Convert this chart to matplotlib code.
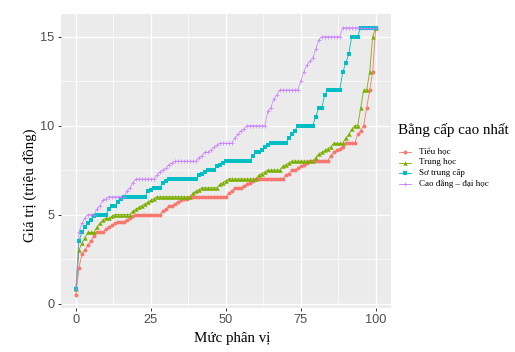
import matplotlib
matplotlib.use("Agg")
import matplotlib.pyplot as plt
from matplotlib.lines import Line2D
from matplotlib.ticker import MultipleLocator

# percentile levels on the x axis
percentiles = list(range(101))

tieu_hoc = [
    0.5, 2.0, 2.8, 3.0, 3.3, 3.5, 3.8, 4.0, 4.0, 4.0,
    4.2, 4.3, 4.4, 4.5, 4.6, 4.6, 4.6, 4.7, 4.8, 4.9,
    5.0, 5.0, 5.0, 5.0, 5.0, 5.0, 5.0, 5.0, 5.0, 5.2,
    5.3, 5.5, 5.5, 5.6, 5.7, 5.8, 5.9, 5.9, 6.0, 6.0,
    6.0, 6.0, 6.0, 6.0, 6.0, 6.0, 6.0, 6.0, 6.0, 6.0,
    6.0, 6.2, 6.3, 6.5, 6.5, 6.5, 6.6, 6.7, 6.8, 6.9,
    7.0, 7.0, 7.0, 7.0, 7.0, 7.0, 7.0, 7.0, 7.0, 7.0,
    7.2, 7.3, 7.5, 7.5, 7.6, 7.7, 7.8, 7.9, 8.0, 8.0,
    8.0, 8.0, 8.0, 8.0, 8.0, 8.3, 8.5, 8.6, 8.7, 8.8,
    9.0, 9.0, 9.0, 9.0, 9.5, 9.7, 10.0, 11.0, 12.0, 13.0,
    15.5,
]

trung_hoc = [
    0.8, 3.0, 3.4, 3.7, 4.0, 4.0, 4.0, 4.3, 4.5, 4.7,
    4.8, 4.8, 4.9, 5.0, 5.0, 5.0, 5.0, 5.0, 5.0, 5.2,
    5.3, 5.4, 5.5, 5.6, 5.7, 5.8, 5.9, 6.0, 6.0, 6.0,
    6.0, 6.0, 6.0, 6.0, 6.0, 6.0, 6.0, 6.0, 6.0, 6.2,
    6.3, 6.4, 6.5, 6.5, 6.5, 6.5, 6.5, 6.5, 6.7, 6.8,
    6.9, 7.0, 7.0, 7.0, 7.0, 7.0, 7.0, 7.0, 7.0, 7.0,
    7.0, 7.2, 7.3, 7.4, 7.5, 7.5, 7.5, 7.5, 7.5, 7.7,
    7.8, 7.9, 8.0, 8.0, 8.0, 8.0, 8.0, 8.0, 8.0, 8.0,
    8.2, 8.4, 8.5, 8.6, 8.7, 8.8, 9.0, 9.0, 9.0, 9.0,
    9.3, 9.5, 9.8, 10.0, 10.0, 11.0, 12.0, 12.0, 13.0, 15.0,
    15.5,
]

so_trung_cap = [
    0.8, 3.5, 4.0, 4.3, 4.5, 4.7, 4.9, 5.0, 5.0, 5.0,
    5.0, 5.3, 5.5, 5.5, 5.7, 5.9, 6.0, 6.0, 6.0, 6.0,
    6.0, 6.0, 6.0, 6.0, 6.3, 6.4, 6.5, 6.5, 6.5, 6.8,
    6.9, 7.0, 7.0, 7.0, 7.0, 7.0, 7.0, 7.0, 7.0, 7.0,
    7.0, 7.2, 7.3, 7.4, 7.5, 7.5, 7.5, 7.7, 7.8, 7.9,
    8.0, 8.0, 8.0, 8.0, 8.0, 8.0, 8.0, 8.0, 8.0, 8.3,
    8.5, 8.5, 8.6, 8.8, 8.9, 9.0, 9.0, 9.0, 9.0, 9.0,
    9.0, 9.3, 9.5, 9.7, 10.0, 10.0, 10.0, 10.0, 10.0, 10.0,
    10.5, 11.0, 11.0, 11.7, 12.0, 12.0, 12.0, 12.0, 12.0, 13.0,
    13.5, 14.0, 15.0, 15.0, 15.0, 15.5, 15.5, 15.5, 15.5, 15.5,
    15.5,
]

cao_dang_dai_hoc = [
    0.8, 4.0, 4.5, 4.8, 5.0, 5.0, 5.0, 5.3, 5.5, 5.8,
    5.9, 6.0, 6.0, 6.0, 6.0, 6.0, 6.0, 6.3, 6.5, 6.8,
    7.0, 7.0, 7.0, 7.0, 7.0, 7.0, 7.0, 7.2, 7.4, 7.5,
    7.6, 7.8, 7.9, 8.0, 8.0, 8.0, 8.0, 8.0, 8.0, 8.0,
    8.0, 8.2, 8.3, 8.5, 8.5, 8.6, 8.8, 8.9, 9.0, 9.0,
    9.0, 9.0, 9.0, 9.3, 9.5, 9.7, 9.8, 10.0, 10.0, 10.0,
    10.0, 10.0, 10.0, 10.0, 10.8, 11.0, 11.5, 11.7, 12.0, 12.0,
    12.0, 12.0, 12.0, 12.0, 12.0, 12.5, 13.0, 13.4, 13.6, 13.8,
    14.3, 14.8, 15.0, 15.0, 15.0, 15.0, 15.0, 15.0, 15.0, 15.5,
    15.5, 15.5, 15.5, 15.5, 15.5, 15.5, 15.5, 15.5, 15.5, 15.5,
    15.5,
]

group_labels = ["Tiểu học", "Trung học", "Sơ trung cấp", "Cao đẳng – đại học"]
series = [tieu_hoc, trung_hoc, so_trung_cap, cao_dang_dai_hoc]

colors = ["#F8766D", "#7CAE00", "#00BFC4", "#C77CFF"]
markers = ["o", "^", "s", "+"]
msizes = [2.8, 3.2, 3.2, 3.4]

SERIF = "Liberation Serif"
SANS = "Liberation Sans"

W, H = 515, 352

fig = plt.figure(figsize=(5.15, 3.52), dpi=100)
ax = fig.add_axes([0.1184, 0.125, 0.6402, 0.8344])
ax.set_facecolor("#EBEBEB")
for sp in ax.spines.values():
    sp.set_visible(False)


def marker_style(mk):
    if mk == "+":
        return dict(markeredgewidth=0.7, alpha=0.75)
    return dict(markeredgewidth=0)


for vals, col, mk, ms in zip(series, colors, markers, msizes):
    ax.plot(percentiles, vals, color=col, linewidth=0.6, zorder=3,
            alpha=0.8 if mk == "+" else 1.0)
    ax.plot(percentiles, vals, linestyle="none", marker=mk, color=col,
            markersize=ms, zorder=4, **marker_style(mk))

ax.set_xlim(-5, 105)
ax.set_ylim(-0.25, 16.25)
ax.xaxis.set_major_locator(MultipleLocator(25))
ax.xaxis.set_minor_locator(MultipleLocator(12.5))
ax.yaxis.set_major_locator(MultipleLocator(5))
ax.yaxis.set_minor_locator(MultipleLocator(2.5))
ax.grid(which="major", color="white", linewidth=1.0)
ax.grid(which="minor", color="white", linewidth=0.5)
ax.set_axisbelow(True)
ax.tick_params(which="major", length=2.5, width=0.7, color="#333333",
               labelcolor="#4D4D4D", labelsize=9.2, pad=2)
ax.tick_params(which="minor", length=0)
for lab in ax.get_xticklabels() + ax.get_yticklabels():
    lab.set_fontfamily(SANS)

fig.text(0.45, 0.038, "Mức phân vị", family=SERIF, fontsize=10.8,
         ha="center", va="center")
fig.text(0.058, 0.475, "Giá trị (triệu đồng)", family=SERIF, fontsize=10.8,
         ha="center", va="center", rotation=90)

# legend drawn by hand so the spacing follows the reference
fig.text(398 / W, 1 - 130 / H, "Bằng cấp cao nhất", family=SERIF,
         fontsize=10.8, ha="left", va="center")
row_y = [152, 162.5, 173, 183.5]
for lab, col, mk, ms, yy in zip(group_labels, colors, markers, msizes, row_y):
    yf = 1 - yy / H
    fig.add_artist(Line2D([399 / W, 411 / W], [yf, yf], color=col,
                          linewidth=0.6, transform=fig.transFigure))
    fig.add_artist(Line2D([405 / W], [yf], color=col, marker=mk,
                          markersize=ms, linestyle="none",
                          transform=fig.transFigure, **marker_style(mk)))
    fig.text(419 / W, yf, lab, family=SERIF, fontsize=6.5,
             ha="left", va="center")

fig.savefig("out.png", dpi=100)
